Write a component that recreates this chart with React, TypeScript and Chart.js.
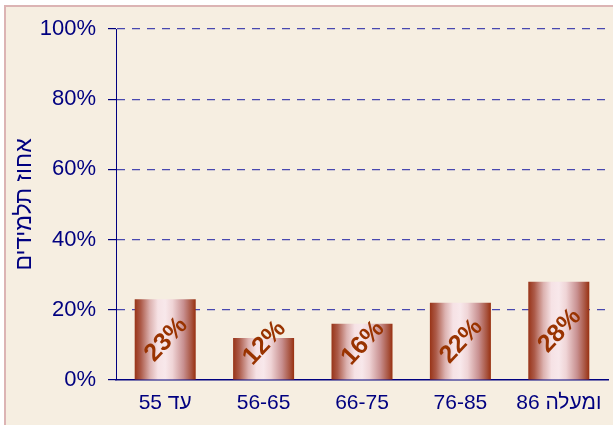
import { useEffect, useRef } from 'react';
import { Chart, registerables } from 'chart.js';

Chart.register(...registerables);

const categories = ['עד 55', '56-65', '66-75', '76-85', '86 ומעלה'];
const percentages = [23, 12, 16, 22, 28];
const yTickValues = [0, 20, 40, 60, 80, 100];
const yTitle = 'אחוז תלמידים';

const NAVY = '#000080';
const LABEL_COLOR = '#993300';
const FONT = "'Liberation Sans', Arial, sans-serif";
const BAR_PCT = 0.62;

export default function App() {
  const ref = useRef<HTMLCanvasElement>(null);

  useEffect(() => {
    const canvas = ref.current!;
    Chart.defaults.font.family = FONT;

    const labelPlugin = {
      id: 'rotLabels',
      afterDatasetsDraw(chart: any) {
        const ctx = chart.ctx;
        const meta = chart.getDatasetMeta(0);
        const ys = chart.scales.y;
        ctx.save();
        ctx.font = `bold 25px ${FONT}`;
        ctx.fillStyle = LABEL_COLOR;
        ctx.textAlign = 'center';
        ctx.textBaseline = 'middle';
        meta.data.forEach((el: any, i: number) => {
          const v = percentages[i];
          const cy = ys.getPixelForValue(Math.max(v / 2, 10.5));
          ctx.save();
          ctx.translate(el.x + 1, cy);
          ctx.rotate((-47 * Math.PI) / 180);
          ctx.fillText(v + '%', 0, 0);
          ctx.restore();
        });
        ctx.restore();
      },
    };

    const barFill = (c: any) => {
      const chart = c.chart;
      const xs = chart.scales && chart.scales.x;
      if (!xs || c.dataIndex === undefined || !xs.width) return '#c08070';
      const cx = xs.getPixelForValue(c.dataIndex);
      const w = (xs.width / categories.length) * BAR_PCT;
      const g = chart.ctx.createLinearGradient(cx - w / 2, 0, cx + w / 2, 0);
      g.addColorStop(0, '#983418');
      g.addColorStop(0.1, '#ac5a48');
      g.addColorStop(0.25, '#dcb2b0');
      g.addColorStop(0.38, '#f6e2e5');
      g.addColorStop(0.5, '#f8e8eb');
      g.addColorStop(0.62, '#efd4d6');
      g.addColorStop(0.8, '#c89090');
      g.addColorStop(0.93, '#a85440');
      g.addColorStop(1, '#983010');
      return g;
    };

    const chart = new Chart(canvas, {
      type: 'bar',
      data: {
        labels: categories,
        datasets: [
          {
            data: percentages,
            backgroundColor: barFill,
            borderWidth: 0,
            barPercentage: BAR_PCT,
            categoryPercentage: 1,
          },
        ],
      },
      options: {
        animation: false,
        responsive: false,
        devicePixelRatio: 1,
        layout: { padding: { top: 29, right: 5, left: 0, bottom: 0 } },
        plugins: { legend: { display: false }, tooltip: { enabled: false } },
        scales: {
          x: {
            afterFit: (s: any) => { s.height = 45; },
            grid: { display: false },
            border: { color: NAVY, width: 1.5 },
            ticks: { color: NAVY, font: { size: 21 }, padding: 3 },
          },
          y: {
            min: 0,
            max: 100,
            afterFit: (s: any) => { s.width = 116; },
            afterBuildTicks: (s: any) => { s.ticks = yTickValues.map((v) => ({ value: v })); },
            ticks: {
              color: NAVY,
              font: { size: 22 },
              padding: 12,
              callback: (v: any) => v + '%',
            },
            grid: {
              color: (c: any) => (c.tick && c.tick.value === 0 ? 'rgba(0,0,0,0)' : '#4848b0'),
              tickColor: NAVY,
              tickLength: 8,
              lineWidth: 1.2,
            },
            border: { color: NAVY, width: 1, dash: [8, 7] },
            title: {
              display: true,
              text: yTitle,
              color: NAVY,
              font: { size: 23 },
              padding: { top: 11, bottom: 0 },
            },
          },
        },
      },
      plugins: [labelPlugin],
    } as any);

    return () => chart.destroy();
  }, []);

  return (
    <div style={{ position: 'fixed', left: 0, top: 0, width: 613, height: 425, overflow: 'hidden', background: '#ffffff' }}>
      <div
        style={{
          position: 'absolute',
          left: 4,
          top: 5,
          width: 660,
          height: 460,
          border: '2px solid #dcb4b4',
          background: '#f6eee1',
        }}
      />
      <canvas
        ref={ref}
        width={613}
        height={425}
        style={{ position: 'absolute', left: 0, top: 0, width: 613, height: 425 }}
      />
    </div>
  );
}
